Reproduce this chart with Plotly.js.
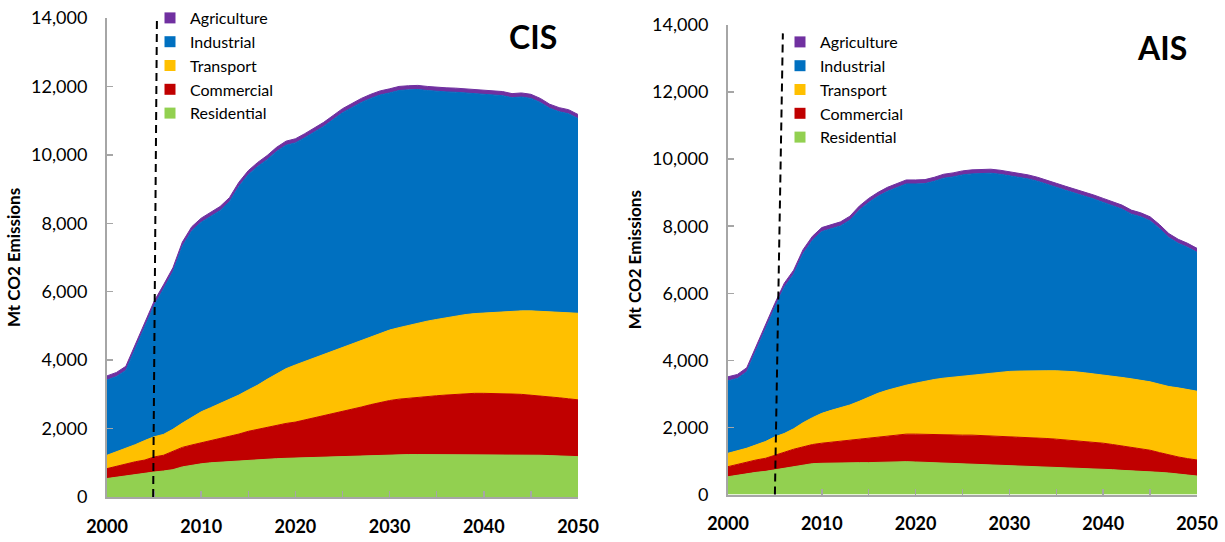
<!DOCTYPE html>
<html>
<head>
<meta charset="utf-8">
<script src="https://cdn.plot.ly/plotly-3.0.1.min.js"></script>
<style>
html,body{margin:0;padding:0;background:#fff}
#chart{width:1225px;height:542px}
</style>
</head>
<body>
<div id="chart"></div>
<script>
// ---------------- data ----------------
const years = [2000,2001,2002,2003,2004,2005,2006,2007,2008,2009,2010,2011,2012,2013,2014,2015,2016,2017,2018,2019,2020,2021,2022,2023,2024,2025,2026,2027,2028,2029,2030,2031,2032,2033,2034,2035,2036,2037,2038,2039,2040,2041,2042,2043,2044,2045,2046,2047,2048,2049,2050];

const sectors = ['Residential','Commercial','Transport','Industrial','Agriculture'];
const legendOrder = ['Agriculture','Industrial','Transport','Commercial','Residential'];

// CIS scenario (Mt CO2)
const cisResidential = [540,580,630,660,690,730,760,800,880,930,970,1000,1020,1040,1060,1080,1100,1110,1120,1130,1140,1150,1160,1170,1180,1190,1200,1210,1220,1230,1240,1240,1240,1240,1240,1240,1240,1240,1240,1240,1240,1240,1240,1240,1240,1230,1220,1210,1200,1190,1180];
const cisCommercial = [290,320,350,370,390,440,460,530,570,590,610,650,690,730,780,840,880,930,980,1020,1050,1100,1150,1200,1260,1310,1360,1420,1480,1540,1580,1620,1650,1680,1700,1720,1740,1760,1780,1790,1790,1790,1780,1770,1760,1750,1740,1720,1700,1680,1660];
const cisTransport = [390,420,440,500,570,590,610,650,710,810,910,960,1020,1080,1140,1210,1290,1400,1500,1600,1670,1710,1760,1800,1830,1860,1910,1940,1970,2010,2060,2090,2130,2160,2200,2230,2260,2290,2310,2330,2350,2370,2400,2420,2440,2460,2470,2490,2500,2510,2530];
const cisIndustrial = [2200,2200,2280,2800,3330,3840,4250,4600,5170,5450,5540,5600,5640,5780,6100,6290,6390,6420,6500,6530,6490,6540,6590,6660,6760,6870,6910,6960,6980,6970,6930,6930,6880,6830,6740,6660,6600,6540,6480,6440,6400,6360,6310,6240,6250,6210,6100,5940,5860,5820,5690];
const cisAgriculture = [120,120,120,120,120,120,120,120,120,120,120,120,120,120,120,120,120,120,120,120,120,120,120,120,120,120,120,120,120,120,120,120,120,120,120,120,120,120,120,120,120,120,120,120,120,120,120,120,120,120,120];

// AIS scenario (Mt CO2)
const aisResidential = [530,580,630,660,690,740,770,830,890,920,930,940,940,940,950,950,960,970,980,980,970,960,950,930,920,910,900,890,880,870,860,850,840,830,820,810,800,790,780,770,750,740,720,710,690,680,660,640,610,580,550];
const aisCommercial = [300,320,350,370,390,440,490,520,540,570,600,620,640,660,680,710,730,760,790,820,830,830,840,860,860,860,870,870,870,870,870,870,870,860,850,840,830,810,800,780,780,750,730,700,680,640,590,540,510,490,480];
const aisTransport = [400,400,400,450,500,540,560,610,710,800,890,950,1010,1070,1150,1240,1330,1380,1420,1460,1520,1590,1640,1680,1720,1760,1800,1840,1880,1920,1940,1960,1980,2000,2020,2040,2050,2060,2050,2050,2040,2040,2040,2040,2040,2040,2040,2040,2060,2060,2050];
const aisIndustrial = [2160,2160,2280,2820,3400,3860,4360,4610,5040,5290,5420,5420,5420,5510,5700,5810,5870,5930,5970,6000,5940,5890,5910,5960,5970,6000,5990,5980,5950,5890,5840,5780,5720,5650,5570,5470,5390,5330,5280,5210,5140,5080,5020,4910,4870,4800,4640,4440,4310,4240,4140];
const aisAgriculture = [120,120,120,120,120,120,120,120,120,120,120,120,120,120,120,120,120,120,120,120,120,120,120,120,120,120,120,120,120,120,120,120,120,120,120,120,120,120,120,120,120,120,120,120,120,120,120,120,120,120,120];

const panelTitles = ['CIS','AIS'];
const yTitle = 'Mt CO2 Emissions';
const baseYear = 2005;

// ---------------- styling ----------------
const colors = {Agriculture:'#7030A0', Industrial:'#0070C0', Transport:'#FFC000', Commercial:'#C00000', Residential:'#92D050'};
const FONT = 'Lato, "Open Sans", sans-serif';
const axisGrey = '#A6A6A6';

const panels = [
  {data:{Residential:cisResidential, Commercial:cisCommercial, Transport:cisTransport, Industrial:cisIndustrial, Agriculture:cisAgriculture}, xa:'x', ya:'y', legend:'legend'},
  {data:{Residential:aisResidential, Commercial:aisCommercial, Transport:aisTransport, Industrial:aisIndustrial, Agriculture:aisAgriculture}, xa:'x2', ya:'y2', legend:'legend2'}
];

const traces = [];
panels.forEach((p, i) => {
  sectors.forEach(s => {
    traces.push({
      type:'scatter', mode:'lines', x:years, y:p.data[s], name:s,
      stackgroup:'g'+i, fillcolor:colors[s],
      line:{color:colors[s], width:1, shape:'linear'},
      xaxis:p.xa, yaxis:p.ya, showlegend:false, hoverinfo:'x+y+name'
    });
  });
  legendOrder.forEach(s => {
    traces.push({
      type:'scatter', mode:'markers', x:[null], y:[null], name:s,
      marker:{symbol:'square', size:11, color:colors[s]},
      xaxis:p.xa, yaxis:p.ya, legend:p.legend, showlegend:true
    });
  });
});

function xAxis(domain, anchor){
  return {
    domain:domain, anchor:anchor, range:[2000,2050], tick0:2000, dtick:10,
    ticks:'inside', ticklen:6, tickwidth:1.5, tickcolor:axisGrey,
    minor:{dtick:5, tick0:2000, ticks:'inside', ticklen:6, tickwidth:1.5, tickcolor:axisGrey, showgrid:false},
    showline:true, linecolor:axisGrey, linewidth:2, showgrid:false, zeroline:false,
    tickfont:{family:FONT, size:18, color:'#000', weight:'bold'},
    ticklabelstandoff:12, automargin:false, fixedrange:true
  };
}
function yAxis(domain, anchor){
  return {
    domain:domain, anchor:anchor, range:[0,14000], dtick:2000, tickformat:',',
    ticks:'inside', ticklen:6, tickwidth:1.5, tickcolor:axisGrey,
    showline:true, linecolor:axisGrey, linewidth:2, showgrid:false, zeroline:false,
    tickfont:{family:FONT, size:18, color:'#000'},
    ticklabelstandoff:14, automargin:false, fixedrange:true,
    title:{text:yTitle, font:{family:FONT, size:17, color:'#000', weight:'bold'}, standoff:6}
  };
}

const legendBase = {
  orientation:'v', bgcolor:'rgba(0,0,0,0)', borderwidth:0, traceorder:'normal',
  font:{family:FONT, size:16, color:'#000'}, tracegroupgap:0, itemclick:false, itemdoubleclick:false,
  xanchor:'left', yanchor:'top'
};

const layout = {
  width:1225, height:542,
  margin:{l:0, r:0, t:0, b:0, pad:0},
  paper_bgcolor:'#fff', plot_bgcolor:'#fff',
  font:{family:FONT, color:'#000'},
  xaxis: xAxis([107/1225, 578/1225], 'y'),
  yaxis: yAxis([45/542, 524/542], 'x'),
  xaxis2: xAxis([728/1225, 1197/1225], 'y2'),
  yaxis2: yAxis([47.5/542, 517/542], 'x2'),
  legend: Object.assign({}, legendBase, {x:150/1225, y:1-1/542}),
  legend2: Object.assign({}, legendBase, {x:780/1225, y:1-25/542}),
  showlegend:true,
  annotations:[
    {text:panelTitles[0], xref:'paper', yref:'paper', x:533/1225, y:1-37/542, xanchor:'center', yanchor:'middle', showarrow:false, font:{family:FONT, size:32, color:'#000', weight:'bold'}},
    {text:panelTitles[1], xref:'paper', yref:'paper', x:1162/1225, y:1-47/542, xanchor:'center', yanchor:'middle', showarrow:false, font:{family:FONT, size:32, color:'#000', weight:'bold'}}
  ],
  shapes:[
    {type:'line', xref:'x', yref:'y', x0:baseYear-0.1, x1:baseYear+0.3, y0:0, y1:14000, line:{color:'#000', width:2, dash:'8px,5px'}, layer:'above'},
    {type:'line', xref:'x2', yref:'y2', x0:baseYear, x1:baseYear+0.85, y0:0, y1:13750, line:{color:'#000', width:2, dash:'8px,5px'}, layer:'above'}
  ]
};

Plotly.newPlot('chart', traces, layout, {displayModeBar:false, staticPlot:true});
</script>
</body>
</html>
